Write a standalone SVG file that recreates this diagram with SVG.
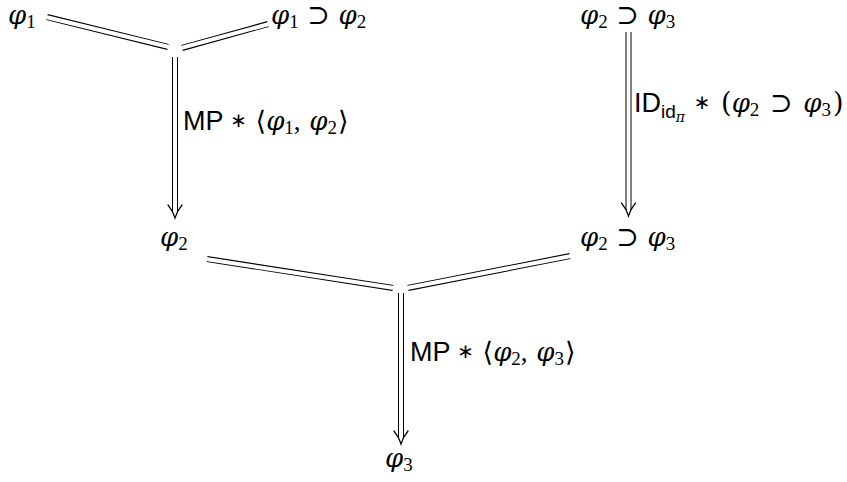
<svg xmlns="http://www.w3.org/2000/svg" width="847" height="482" viewBox="0 0 847 482">
<style>
text{font-family:"Liberation Serif","DejaVu Serif",serif;font-size:27px;fill:#000}
.v{font-family:"DejaVu Serif",serif;font-style:italic;font-size:26px}
.s{font-size:19px}
.ss{font-size:14px}
.sf{font-family:"Liberation Sans","DejaVu Sans",sans-serif;font-style:normal}
.op{font-family:"DejaVu Serif",serif;font-style:normal;font-weight:300}
.st{font-family:"DejaVu Sans",sans-serif;font-size:20px}
.ob{stroke:#000;stroke-width:6;fill:none}
.ow{stroke:#fff;stroke-width:4;fill:none}
.ah{stroke:#000;stroke-width:1.2;fill:none;stroke-linecap:round}
</style>
<g id="connectors">
  <path class="ob" d="M47,17 L168,47 M182,48 L268,24 M175,57 L175,212 M628.5,32 L628.5,210 M207,259 L393,288 M408,288 L570,256 M401,293 L401,437"/>
  <path class="ow" d="M46,17 L169,47 M181,48 L269,24 M175,56 L175,214 M628.5,31 L628.5,212 M206,259 L394,288 M407,288 L571,256 M401,292 L401,439"/>
  <path class="ah" d="M168,205 Q173,211 175,218 Q177,211 182,205"/>
  <path class="ah" d="M621.5,203 Q626.5,209 628.5,216 Q630.5,209 635.5,203"/>
  <path class="ah" d="M394,431 Q399,437 401,444 Q403,437 408,431"/>
</g>
<g id="n1"><text x="8" y="24"><tspan class="v">φ</tspan><tspan class="s" dy="4">1</tspan></text></g>
<g id="n2"><text x="271" y="24"><tspan class="v">φ</tspan><tspan class="s" dy="4">1</tspan><tspan dy="-4" class="op"> ⊃ </tspan><tspan class="v">φ</tspan><tspan class="s" dy="4">2</tspan></text></g>
<g id="n3"><text x="580" y="24"><tspan class="v">φ</tspan><tspan class="s" dy="4">2</tspan><tspan dy="-4" class="op"> ⊃ </tspan><tspan class="v">φ</tspan><tspan class="s" dy="4">3</tspan></text></g>
<g id="l1"><text x="183" y="130"><tspan class="sf">MP</tspan><tspan> </tspan><tspan class="st" dy="-3">∗</tspan><tspan class="op" dy="3"> ⟨</tspan><tspan class="v">φ</tspan><tspan class="s" dy="4">1</tspan><tspan dy="-4">, </tspan><tspan class="v" dx="2">φ</tspan><tspan class="s" dy="4">2</tspan><tspan dy="-4" class="op" dx="1">⟩</tspan></text></g>
<g id="l2"><text x="634" y="112"><tspan class="sf">ID</tspan><tspan class="s sf" dy="6">id</tspan><tspan class="ss v" dy="4">π</tspan><tspan dy="-10"> </tspan><tspan class="st" dy="-3" dx="2">∗</tspan><tspan class="op" dy="3" dx="2"> (</tspan><tspan class="v">φ</tspan><tspan class="s" dy="4">2</tspan><tspan dy="-4" class="op" dx="2"> ⊃ </tspan><tspan class="v" dx="2">φ</tspan><tspan class="s" dy="4">3</tspan><tspan dy="-4" class="op" dx="2">)</tspan></text></g>
<g id="n4"><text x="160" y="246"><tspan class="v">φ</tspan><tspan class="s" dy="4">2</tspan></text></g>
<g id="n5"><text x="580" y="246"><tspan class="v">φ</tspan><tspan class="s" dy="4">2</tspan><tspan dy="-4" class="op"> ⊃ </tspan><tspan class="v">φ</tspan><tspan class="s" dy="4">3</tspan></text></g>
<g id="l3"><text x="410" y="361"><tspan class="sf">MP</tspan><tspan> </tspan><tspan class="st" dy="-3">∗</tspan><tspan class="op" dy="3"> ⟨</tspan><tspan class="v">φ</tspan><tspan class="s" dy="4">2</tspan><tspan dy="-4">, </tspan><tspan class="v" dx="2">φ</tspan><tspan class="s" dy="4">3</tspan><tspan dy="-4" class="op" dx="1">⟩</tspan></text></g>
<g id="n6"><text x="385" y="467"><tspan class="v">φ</tspan><tspan class="s" dy="4">3</tspan></text></g>
</svg>
